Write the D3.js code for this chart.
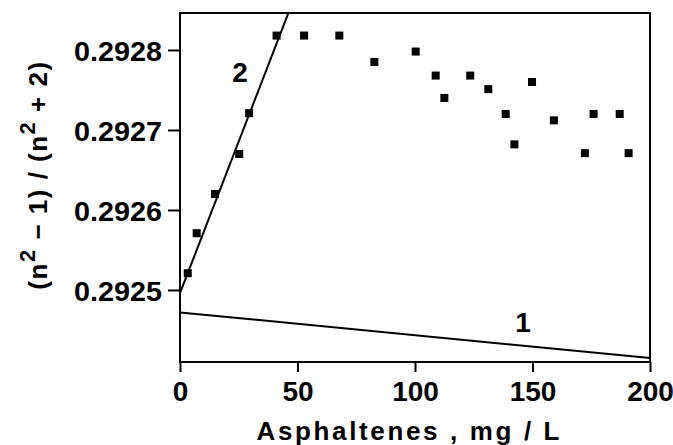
<!DOCTYPE html>
<html><head><meta charset="utf-8">
<script src="https://cdn.jsdelivr.net/npm/d3@7"></script>
<style>body{margin:0;background:#fff}svg{display:block}</style>
</head><body>
<svg id="c" width="673" height="445"></svg>
<script>
const xTicks = [0, 50, 100, 150, 200];
const yTicks = [0.2925, 0.2926, 0.2927, 0.2928];
const pointsX = [3.3, 7.1, 14.9, 25.2, 29.4, 41.1, 52.8, 67.8, 82.7, 100.3, 108.8, 112.5, 123.5, 131.2, 138.6, 142.3, 149.8, 159.1, 172.3, 176.0, 187.1, 190.9];
const pointsY = [0.292521, 0.292571, 0.29262, 0.29267, 0.292721, 0.292818, 0.292818, 0.292818, 0.292785, 0.292798, 0.292768, 0.29274, 0.292768, 0.292751, 0.29272, 0.292682, 0.29276, 0.292712, 0.292671, 0.29272, 0.29272, 0.292671];
const line1X = [0, 200];
const line1Y = [0.292472, 0.292415];
const line2X = [0, 46.1];
const line2Y = [0.292496, 0.292846];
const labels = [{t: "2", x: 25.5, y: 0.292772}, {t: "1", x: 146, y: 0.29246}];

const svg = d3.select("#c");
const L = 180, R = 650, T = 13, B = 362;
const x = d3.scaleLinear().domain([0, 200]).range([L, R]);
const y = d3.scaleLinear().domain([0.29241, 0.2928462]).range([B, T]);
const font = "'Liberation Sans', Arial, sans-serif";

const g = svg.append("g");
g.append("rect").attr("x", L).attr("y", T).attr("width", R - L).attr("height", B - T)
  .attr("fill", "none").attr("stroke", "#000").attr("stroke-width", 2);

const xa = g.append("g").attr("transform", `translate(0,${B})`)
  .call(d3.axisBottom(x).tickValues(xTicks).tickSize(10).tickPadding(5).tickFormat(d3.format("d")));
const ya = g.append("g").attr("transform", `translate(${L},0)`)
  .call(d3.axisLeft(y).tickValues(yTicks).tickSize(12).tickPadding(6).tickFormat(d3.format(".4f")));
[xa, ya].forEach(a => {
  a.select(".domain").remove();
  a.selectAll("line").attr("stroke", "#000").attr("stroke-width", 2);
  a.selectAll("text").attr("fill", "#000").style("font-family", font).style("font-weight", "bold").style("font-size", "28px");
});
xa.selectAll("text").attr("dy", "0.85em");
ya.selectAll("text").attr("dy", "0.36em").attr("textLength", 88).attr("lengthAdjust", "spacingAndGlyphs");

const ln = d3.line().x(d => x(d[0])).y(d => y(d[1]));
g.append("path").datum(line1X.map((v, i) => [v, line1Y[i]])).attr("d", ln)
  .attr("fill", "none").attr("stroke", "#000").attr("stroke-width", 2);
g.append("path").datum(line2X.map((v, i) => [v, line2Y[i]])).attr("d", ln)
  .attr("fill", "none").attr("stroke", "#000").attr("stroke-width", 2);

const s = 8;
g.selectAll("rect.pt").data(pointsX.map((v, i) => [v, pointsY[i]])).enter().append("rect")
  .attr("class", "pt").attr("x", d => x(d[0]) - s / 2).attr("y", d => y(d[1]) - s / 2)
  .attr("width", s).attr("height", s).attr("fill", "#000");

g.selectAll("text.lab").data(labels).enter().append("text").attr("class", "lab")
  .attr("x", d => x(d.x)).attr("y", d => y(d.y)).attr("text-anchor", "middle").attr("dy", "0.36em")
  .style("font-family", font).style("font-weight", "bold").style("font-size", "28px").text(d => d.t);

svg.append("text").attr("x", 409).attr("y", 440).attr("text-anchor", "middle")
  .style("font-family", font).style("font-weight", "bold").style("font-size", "26px").style("letter-spacing", "2px")
  .attr("textLength", 305).attr("lengthAdjust", "spacing")
  .text("Asphaltenes  ,  mg / L");

const yl = svg.append("text").attr("transform", "translate(47,175) rotate(-90)").attr("text-anchor", "middle")
  .style("font-family", font).style("font-weight", "bold").style("font-size", "26px").style("letter-spacing", "1.5px");
yl.append("tspan").text("(n");
yl.append("tspan").attr("dy", -12).style("font-size", "22px").text("2");
yl.append("tspan").attr("dy", 12).text(" \u2212 1) / (n");
yl.append("tspan").attr("dy", -12).style("font-size", "22px").text("2");
yl.append("tspan").attr("dy", 12).text(" + 2)");
</script>
</body></html>
